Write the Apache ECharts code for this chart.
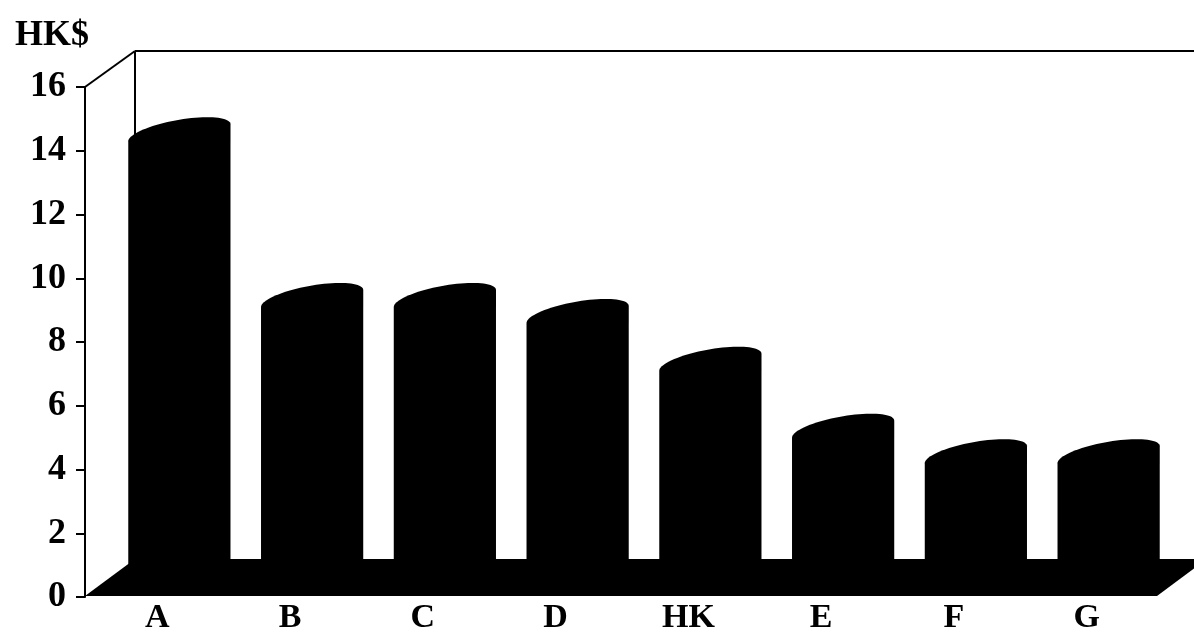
<!DOCTYPE html>
<html>
<head>
<meta charset="utf-8">
<script src="https://cdn.jsdelivr.net/npm/echarts@6/dist/echarts.min.js"></script>
<style>
  html, body { margin: 0; padding: 0; background: #fff; }
  #chart { width: 1194px; height: 635px; }
</style>
</head>
<body>
<div id="chart"></div>
<script>
// categories and values (HK$)
var categories = ["A", "B", "C", "D", "HK", "E", "F", "G"];
var prices = [14.0, 8.8, 8.8, 8.3, 6.8, 4.7, 3.9, 3.9];
var yTicks = [0, 2, 4, 6, 8, 10, 12, 14, 16];

var FONT = "'Liberation Serif', 'Times New Roman', serif";
// depth of the 3d box (back wall offset)
var DEPTH_X = 50, DEPTH_Y = -36;

var chart = echarts.init(document.getElementById("chart"));

function renderFrame(params, api) {
  var cs = params.coordSys;
  var fl = cs.x - 6, fr = cs.x + cs.width + 4;
  var top = cs.y, y0 = cs.y + cs.height;
  var lineStyle = { stroke: "#000", lineWidth: 2 };
  return {
    type: "group",
    children: [
      { type: "line", shape: { x1: fl, y1: top, x2: fl + DEPTH_X, y2: top + DEPTH_Y }, style: lineStyle },
      { type: "line", shape: { x1: fl + DEPTH_X, y1: top + DEPTH_Y, x2: fr + DEPTH_X, y2: top + DEPTH_Y }, style: lineStyle },
      { type: "line", shape: { x1: fl + DEPTH_X, y1: top + DEPTH_Y, x2: fl + DEPTH_X, y2: y0 + DEPTH_Y }, style: lineStyle },
      {
        type: "polygon",
        shape: { points: [[fl, y0 - 1], [fl + DEPTH_X, y0 + DEPTH_Y - 2], [fr + DEPTH_X, y0 + DEPTH_Y - 2], [fr, y0 - 1]] },
        style: { fill: "#000" }
      }
    ]
  };
}

function renderCylinder(params, api) {
  var idx = api.value(0);
  var val = api.value(1);
  var top = api.coord([idx, val]);
  var base = api.coord([idx, 0]);
  var a = api.size([1, 0])[0] * 0.385;
  var b = 13, s = -8.5;
  var cx = top[0] + 22;
  var cy = top[1] + DEPTH_Y / 2;
  var yb = base[1] + DEPTH_Y / 2;
  var pts = [[cx - a, yb]];
  for (var k = 0; k <= 40; k++) {
    var t = Math.PI - (Math.PI * k) / 40;
    pts.push([cx + a * Math.cos(t), cy - b * Math.sin(t) + s * Math.cos(t)]);
  }
  pts.push([cx + a, yb]);
  return {
    type: "polygon",
    shape: { points: pts },
    style: { fill: "#000" }
  };
}

var option = {
  animation: false,
  backgroundColor: "#fff",
  title: {
    text: "HK$",
    left: 10,
    top: 13,
    textStyle: { fontFamily: FONT, fontWeight: "bold", fontSize: 36, color: "#000" }
  },
  grid: { left: 91, right: 41, top: 87, bottom: 35, containLabel: false },
  xAxis: {
    type: "category",
    data: categories,
    axisLine: { show: false },
    axisTick: { show: false },
    axisLabel: { margin: 4, color: "#000", fontFamily: FONT, fontWeight: "bold", fontSize: 34 }
  },
  yAxis: {
    type: "value",
    min: yTicks[0],
    max: yTicks[yTicks.length - 1],
    interval: 2,
    offset: 6,
    axisLine: { show: true, lineStyle: { color: "#000", width: 2 } },
    axisTick: { show: true, length: 9, lineStyle: { color: "#000", width: 2 } },
    splitLine: { show: false },
    axisLabel: {
      margin: 19,
      color: "#000",
      fontFamily: FONT,
      fontWeight: "bold",
      fontSize: 36,
      padding: [0, 0, 12, 0]
    }
  },
  series: [
    {
      type: "custom",
      name: "frame",
      z: 1,
      silent: true,
      renderItem: renderFrame,
      data: [[0, 0]]
    },
    {
      type: "custom",
      name: "price",
      z: 2,
      renderItem: renderCylinder,
      data: prices.map(function (v, i) { return [i, v]; })
    }
  ]
};

chart.setOption(option);
</script>
</body>
</html>
